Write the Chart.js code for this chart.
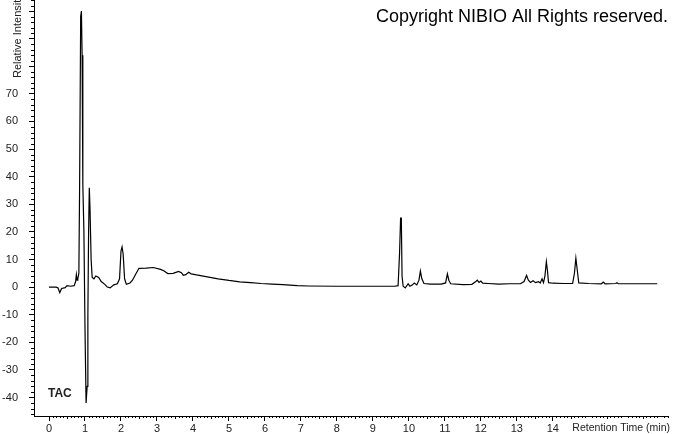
<!DOCTYPE html>
<html>
<head>
<meta charset="utf-8">
<script src="https://cdn.jsdelivr.net/npm/chart.js@4.4.0/dist/chart.umd.min.js"></script>
<style>
  html, body { margin: 0; padding: 0; background: #fff; }
  #wrap { width: 674px; height: 434px; }
</style>
</head>
<body>
<div id="wrap"><canvas id="chart" width="674" height="434"></canvas></div>
<script>
// TAC chromatogram - retention time (min) vs relative intensity

const retentionTime = [
    0, 0.2, 0.25, 0.3, 0.35, 0.45, 0.5, 0.6, 0.7, 0.74, 0.76, 0.78, 0.8, 0.83,
    0.85, 0.88, 0.9, 0.92, 0.94, 0.97, 1.0, 1.03, 1.06, 1.08, 1.1, 1.12, 1.14,
    1.17, 1.2, 1.25, 1.3, 1.38, 1.45, 1.55, 1.62, 1.7, 1.8, 1.9, 1.96, 2.0,
    2.03, 2.06, 2.1, 2.15, 2.25, 2.32, 2.4, 2.5, 2.7, 2.9, 3.1, 3.2, 3.3, 3.45,
    3.6, 3.68, 3.73, 3.8, 3.88, 3.95, 4.1, 4.4, 4.7, 5.0, 5.3, 5.6, 5.9, 6.2,
    6.5, 6.9, 7.2, 8.0, 9.0, 9.6, 9.7, 9.74, 9.77, 9.79, 9.81, 9.84, 9.9,
    9.98, 10.03, 10.1, 10.15, 10.22, 10.28, 10.32, 10.36, 10.42, 10.6, 10.9,
    11.02, 11.07, 11.11, 11.16, 11.5, 11.75, 11.85, 11.9, 11.95, 12.0, 12.05,
    12.2, 12.5, 12.8, 13.1, 13.2, 13.27, 13.32, 13.38, 13.45, 13.52, 13.6,
    13.65, 13.7, 13.74, 13.78, 13.82, 13.85, 13.88, 14.0, 14.3, 14.55, 14.6,
    14.64, 14.68, 14.72, 15.0, 15.35, 15.4, 15.45, 15.75, 15.78, 15.82, 16.9
];

const intensity = [
    0, 0, -0.3, -2, -0.5, -0.2, 0.5, 0.3, 0.5, 2, 4.5, 2.5, 3, 5,
    36, 98, 100, 84, 37, 20, -15, -42, -36, -10, 20, 36, 28,
    10, 3.5, 3, 4, 3.5, 2, 1, 0, -0.3, 0.8, 1.2, 3, 13,
    14.5, 12, 3, 1, 1.5, 2.5, 4.5, 6.8, 6.9, 7.1, 6.4, 5.8, 4.9, 5.0,
    5.7, 5.2, 4.3, 4.5, 5.4, 4.8, 4.4, 3.7, 3.0, 2.4, 1.9, 1.6, 1.3, 1.1,
    0.9, 0.5, 0.4, 0.3, 0.3, 0.3, 0.5, 12, 25, 25, 4, 0.3, -0.3,
    1.2, 0.3, 0.8, 1.5, 0.8, 2.5, 5.8, 3, 1.3, 1.1, 1.1,
    1.5, 4.8, 2.5, 1.2, 0.9, 1.0, 1.9, 2.5, 1.7, 2.2, 1.4,
    1.3, 1.1, 1.2, 1.2, 2, 4.2, 2.5, 1.7, 2.3, 1.6, 2.0,
    1.5, 3, 1.6, 4, 9.2, 6, 1.6, 1.4, 1.3, 1.3, 5,
    10.5, 6, 1.5, 1.3, 1.2, 1.8, 1.2, 1.3, 1.6, 1.2, 1.2
];

// axis setup
const xTickValues = [0, 1, 2, 3, 4, 5, 6, 7, 8, 9, 10, 11, 12, 13, 14];
const yTickValues = [-40, -30, -20, -10, 0, 10, 20, 30, 40, 50, 60, 70];

const fontFamily = '"Liberation Sans", Arial, sans-serif';

// minor tick marks + annotation texts
const decorPlugin = {
    id: 'decor',
    afterDraw(chart) {
        const ctx = chart.ctx;
        const xs = chart.scales.x;
        const ys = chart.scales.y;
        const area = chart.chartArea;
        ctx.save();
        ctx.strokeStyle = '#000';
        ctx.lineWidth = 1;
        ctx.beginPath();
        for (let i = 0; i <= 172; i++) {
            if (i % 10 === 0) continue;
            const px = Math.round(xs.getPixelForValue(i / 10)) + 0.5;
            const len = (i % 5 === 0) ? 3 : 2;
            ctx.moveTo(px, area.bottom);
            ctx.lineTo(px, area.bottom + len);
        }
        for (let v = -46; v <= 104; v += 2) {
            if (v % 10 === 0) continue;
            const py = Math.round(ys.getPixelForValue(v)) + 0.5;
            ctx.moveTo(area.left, py);
            ctx.lineTo(area.left - 3, py);
        }
        ctx.stroke();

        ctx.fillStyle = '#000';
        ctx.font = '18px ' + fontFamily;
        ctx.textAlign = 'right';
        ctx.textBaseline = 'alphabetic';
        ctx.fillText('Copyright NIBIO All Rights reserved.', 668, 22);

        ctx.fillStyle = '#222';
        ctx.font = '10.5px ' + fontFamily;
        ctx.textAlign = 'right';
        ctx.textBaseline = 'middle';
        ctx.fillText('Retention Time (min)', 670, 428);

        ctx.save();
        ctx.translate(18, 78);
        ctx.rotate(-Math.PI / 2);
        ctx.textAlign = 'left';
        ctx.font = '11px ' + fontFamily;
        ctx.fillText('Relative Intensity', 0, 0);
        ctx.restore();

        ctx.fillStyle = '#222';
        ctx.font = 'bold 12px ' + fontFamily;
        ctx.textAlign = 'left';
        ctx.textBaseline = 'middle';
        ctx.fillText('TAC', 48, 394);
        ctx.restore();
    }
};

const points = retentionTime.map((t, i) => ({ x: t, y: intensity[i] }));

new Chart(document.getElementById('chart'), {
    type: 'line',
    data: {
        datasets: [{
            label: 'TAC',
            data: points,
            borderColor: '#000',
            borderWidth: 1.2,
            pointRadius: 0,
            tension: 0,
            fill: false
        }]
    },
    options: {
        responsive: false,
        animation: false,
        layout: { padding: { left: 0, right: 6, top: 0, bottom: 0 } },
        plugins: {
            legend: { display: false },
            tooltip: { enabled: false }
        },
        scales: {
            x: {
                type: 'linear',
                min: -0.417,
                max: 17.2,
                afterFit: s => {
                    s.height = 18;
                    s.paddingLeft = 0;
                    s.paddingRight = 0;
                },
                afterBuildTicks: s => { s.ticks = xTickValues.map(v => ({ value: v })); },
                ticks: {
                    color: '#222',
                    font: { family: fontFamily, size: 11 },
                    padding: 1,
                    maxRotation: 0,
                    autoSkip: false
                },
                grid: { drawOnChartArea: false, drawTicks: true, tickLength: 5, color: '#000' },
                border: { display: true, color: '#000', width: 1 }
            },
            y: {
                min: -46.7,
                max: 104,
                afterFit: s => {
                    s.width = 34;
                    s.paddingTop = 0;
                    s.paddingBottom = 0;
                },
                afterBuildTicks: s => { s.ticks = [...yTickValues, 80, 90, 100].map(v => ({ value: v })); },
                ticks: {
                    color: '#222',
                    font: { family: fontFamily, size: 11 },
                    padding: 11,
                    autoSkip: false,
                    callback: v => (v > 70 ? '' : v)
                },
                grid: { drawOnChartArea: false, drawTicks: true, tickLength: 5, color: '#000' },
                border: { display: true, color: '#000', width: 1 }
            }
        }
    },
    plugins: [decorPlugin]
});
</script>
</body>
</html>
